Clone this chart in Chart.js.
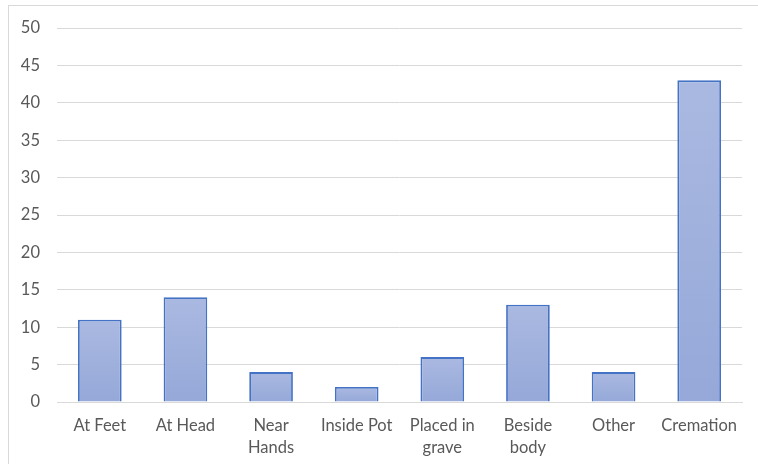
<!DOCTYPE html>
<html>
<head>
<meta charset="utf-8">
<script src="https://cdn.jsdelivr.net/npm/chart.js@4"></script>
<style>
  html, body { margin:0; padding:0; background:#fff; }
  #wrap { position:relative; width:758px; height:464px; overflow:hidden; }
  #frame { position:absolute; left:8px; top:5px; width:760px; height:470px; border:1px solid #d9d9d9; box-sizing:border-box; pointer-events:none; }
  canvas { position:absolute; left:0; top:0; }
</style>
</head>
<body>
<div id="wrap">
  <div id="frame"></div>
  <canvas id="c" width="758" height="464"></canvas>
</div>
<script>
const categories = [["At Feet"], ["At Head"], ["Near", "Hands"], ["Inside Pot"], ["Placed in", "grave"], ["Beside", "body"], ["Other"], ["Cremation"]];
const counts = [11, 14, 4, 2, 6, 13, 4, 43];
const yTicks = [0, 5, 10, 15, 20, 25, 30, 35, 40, 45, 50];

function barFill(ctx) {
  const chart = ctx.chart;
  const ys = chart.scales.y;
  if (!ys || ctx.parsed === undefined) return '#a2b3dd';
  const top = ys.getPixelForValue(ctx.parsed.y);
  const base = ys.getPixelForValue(0);
  if (!isFinite(top) || !isFinite(base) || top === base) return '#a2b3dd';
  const g = chart.ctx.createLinearGradient(0, top, 0, base);
  g.addColorStop(0, '#aab9e1');
  g.addColorStop(1, '#95a8d8');
  return g;
}

const fontFam = 'Lato, "Open Sans", sans-serif';

new Chart(document.getElementById('c'), {
  type: 'bar',
  data: {
    labels: categories,
    datasets: [{
      data: counts,
      backgroundColor: barFill,
      borderColor: '#4472c4',
      borderWidth: 1.8,
      barPercentage: 0.51,
      categoryPercentage: 1.0
    }]
  },
  options: {
    responsive: false,
    animation: false,
    devicePixelRatio: 1,
    layout: { padding: { left: 8, right: 16, top: 28, bottom: 0 } },
    plugins: { legend: { display: false }, tooltip: { enabled: false }, title: { display: false } },
    scales: {
      x: {
        grid: { display: false, drawTicks: false },
        border: { display: true, color: '#d9d9d9', width: 1 },
        ticks: { color: '#595959', font: { family: fontFam, size: 16.5, lineHeight: 1.33 }, padding: 13, maxRotation: 0, autoSkip: false },
        afterFit(s) { s.height = 62; }
      },
      y: {
        min: 0, max: 50,
        afterBuildTicks(s) { s.ticks = yTicks.map(v => ({ value: v })); },
        grid: { color: '#d9d9d9', lineWidth: 1, drawTicks: false },
        border: { display: false },
        ticks: { color: '#595959', font: { family: fontFam, size: 16.5 }, padding: 17 },
        afterFit(s) { s.width = 49; }
      }
    }
  }
});
</script>
</body>
</html>
